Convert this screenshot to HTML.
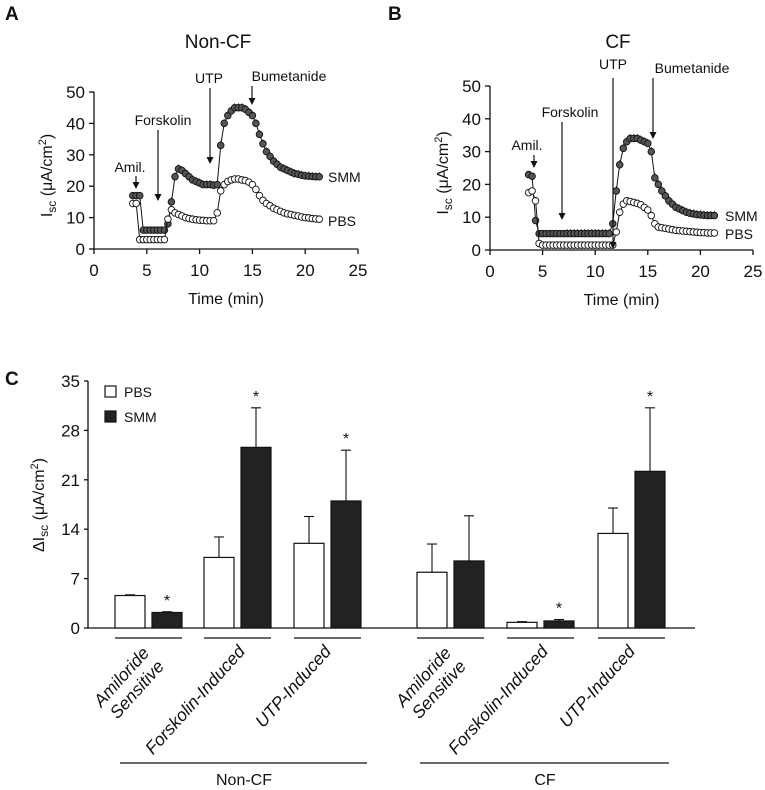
<!DOCTYPE html>
<html><head><meta charset="utf-8"><style>
body{margin:0;background:#fff}
svg{display:block;font-family:"Liberation Sans",sans-serif}
</style></head><body>
<svg id="fig" width="765" height="790" viewBox="0 0 765 790"></svg>
<script>
const times=[3.67,4,4.33,4.67,5,5.33,5.67,6,6.33,6.67,7,7.33,7.67,8,8.33,8.67,9,9.33,9.67,10,10.33,10.67,11,11.33,11.67,12,12.33,12.67,13,13.33,13.67,14,14.33,14.67,15,15.33,15.67,16,16.33,16.67,17,17.33,17.67,18,18.33,18.67,19,19.33,19.67,20,20.33,20.67,21,21.33];
const nonCfSmm=[17,17,17,6,6,6,6,6,6,6,8,15,23,25.5,25,24,23,22,21.5,21,20.5,20.5,20.5,20.3,20.5,33,40,42.5,44,45,45,45,44.5,43.5,42.5,40,36.5,33.5,31,29.5,28,27,26,25.5,25,24.5,24,23.8,23.5,23.3,23.2,23.1,23,23];
const nonCfPbs=[14.5,14.5,3,3,3,3,3,3,3,3,9.5,12.5,11.5,11,10.5,10,9.7,9.5,9.3,9.2,9.1,9,9,9,11.5,18.5,20.5,21.5,22,22.3,22.3,22,21.8,21.3,20.5,19,17,15.5,14.5,13.8,13,12.5,12,11.5,11.2,11,10.7,10.5,10.2,10,9.9,9.7,9.6,9.5];
const cfSmm=[23,22.5,9,5,5,5,5,5,5,5,5,5,5,5,5,5,5,5,5,5,5,5,5,5,8,18,26,31,33,34,34,34,33.5,33,32.5,30,22,20,18,16.5,15,14,13,12.5,12,11.5,11.2,11,10.8,10.7,10.6,10.5,10.5,10.5];
const cfPbs=[17.5,18,15,2,1.5,1.5,1.5,1.5,1.5,1.5,1.5,1.5,1.5,1.5,1.5,1.5,1.5,1.5,1.5,1.5,1.5,1.5,1.5,1.5,1.5,5.5,11.5,14,15,14.8,14.5,14.2,13.8,13,12.2,10.5,8,7,6.8,6.6,6.4,6.2,6,5.9,5.8,5.7,5.6,5.5,5.4,5.3,5.3,5.2,5.2,5.2];
const xTicks=[0,5,10,15,20,25];
const yTicks=[0,10,20,30,40,50];
const barCats=["amiloride-noncf","forskolin-noncf","utp-noncf","amiloride-cf","forskolin-cf","utp-cf"];
const pbsVals=[4.6,10,12,7.9,0.8,13.4];
const pbsErr=[0.1,2.9,3.8,4,0.1,3.6];
const smmVals=[2.2,25.6,18,9.5,1.0,22.2];
const smmErr=[0.1,5.6,7.2,6.4,0.2,9];
const sig=[true,true,true,false,true,true];
const cTicks=[0,7,14,21,28,35];

const NS="http://www.w3.org/2000/svg";
const svg=document.getElementById('fig');
function el(tag,attrs,name,parent){const e=document.createElementNS(NS,tag);for(const k in attrs)e.setAttribute(k,attrs[k]);


(parent||svg).appendChild(e);return e;}
function txt(x,y,s,size,name,anchor,extra){const t=el('text',Object.assign({x:x,y:y,'font-size':size,'text-anchor':anchor||'middle',fill:'#111'},extra||{}),name);t.innerHTML=s;return t;}
function line(x1,y1,x2,y2,name,w){return el('line',{x1,y1,x2,y2,stroke:'#111','stroke-width':w||1.3},name);}
function arrow(x,y1,y2,name){line(x,y1,x,y2-4,name,1.2);el('path',{d:`M${x-3.5},${y2-7}L${x+3.5},${y2-7}L${x},${y2}Z`,fill:'#111'},name+'-head');}

function panel(o){
  const X=v=>o.x0+(v/25)*(o.x1-o.x0), Y=v=>o.y0-(v/50)*(o.y0-o.y1);
  line(o.x0,o.y0,o.x1,o.y0,o.p+'-x-axis');
  line(o.x0,o.y0,o.x0,o.y1,o.p+'-y-axis');
  xTicks.forEach(t=>{line(X(t),o.y0,X(t),o.y0+5,o.p+'-x-tick');txt(X(t),o.y0+27,t,17,o.p+'-x-tick-label');});
  yTicks.forEach(t=>{line(o.x0-5,Y(t),o.x0,Y(t),o.p+'-y-tick');txt(o.x0-9,Y(t)+6,t,17,o.p+'-y-tick-label','end');});
  txt((o.x0+o.x1)/2,o.y0+55,'Time (min)',16,o.p+'-x-axis-title');
  const yc=(o.y0+o.y1)/2+5;
  txt(o.x0-42,yc,'I<tspan font-size="12" dy="4">sc</tspan><tspan dy="-4"> (μA/cm</tspan><tspan font-size="11" dy="-6">2</tspan><tspan dy="6">)</tspan>',16,o.p+'-y-axis-title','middle',{transform:`rotate(-90 ${o.x0-42} ${yc})`});
  [[o.smm,'#555','smm'],[o.pbs,'#fff','pbs']].forEach(([s,f,n])=>{
    const pts=s.map((v,i)=>X(times[i]).toFixed(1)+','+Y(v).toFixed(1)).join(' ');
    el('polyline',{points:pts,fill:'none',stroke:'#111','stroke-width':1},o.p+'-'+n+'-line');
    s.forEach((v,i)=>{
      if(n==='smm'&&times[i]>7){line(X(times[i]),Y(v),X(times[i]),Y(v+1.4),o.p+'-smm-error-bar',0.8);}
      el('circle',{cx:X(times[i]),cy:Y(v),r:3.3,fill:f,stroke:'#111','stroke-width':0.9},o.p+'-'+n+'-point');
    });
  });
}
panel({p:'a',x0:94,x1:358,y0:249,y1:92,smm:nonCfSmm,pbs:nonCfPbs});
panel({p:'b',x0:490,x1:753,y0:250,y1:86,smm:cfSmm,pbs:cfPbs});
txt(5,20,'A',19,'panel-a-letter','start',{'font-weight':'bold'});
txt(218,48,'Non-CF',19,'panel-a-title');
txt(130,172,'Amil.',14,'amil-label-a');arrow(136,176,189,'amil-arrow-a');
txt(163,125,'Forskolin',14,'forskolin-label-a');arrow(158,130,201,'forskolin-arrow-a');
txt(209,83,'UTP',14,'utp-label-a');arrow(210,88,164,'utp-arrow-a');
txt(289,81,'Bumetanide',14,'bumetanide-label-a');arrow(252,86,105,'bumetanide-arrow-a');
txt(328,182,'SMM',14,'smm-label-a','start');
txt(328,226,'PBS',14,'pbs-label-a','start');
txt(388,20,'B',19,'panel-b-letter','start',{'font-weight':'bold'});
txt(618,48,'CF',19,'panel-b-title');
txt(527,150,'Amil.',14,'amil-label-b');arrow(534,155,168,'amil-arrow-b');
txt(570,117,'Forskolin',14,'forskolin-label-b');arrow(562,122,220,'forskolin-arrow-b');
txt(613,69,'UTP',14,'utp-label-b');arrow(613,78,249,'utp-arrow-b');
txt(692,73,'Bumetanide',14,'bumetanide-label-b');arrow(653,78,139,'bumetanide-arrow-b');
txt(725,221,'SMM',14,'smm-label-b','start');
txt(725,239,'PBS',14,'pbs-label-b','start');

// panel C
txt(5,385,'C',19,'panel-c-letter','start',{'font-weight':'bold'});
const cy0=628,cy1=381,cx0=88,cx1=695;
const CY=v=>cy0-(v/35)*(cy0-cy1);
line(cx0,cy0,cx1,cy0,'c-x-axis');line(cx0,cy0,cx0,cy1,'c-y-axis');
cTicks.forEach(t=>{line(cx0-4,CY(t),cx0,CY(t),'c-y-tick');txt(cx0-8,CY(t)+6,t,17,'c-y-tick-label','end');});
txt(44,505,'ΔI<tspan font-size="12" dy="4">sc</tspan><tspan dy="-4"> (μA/cm</tspan><tspan font-size="11" dy="-6">2</tspan><tspan dy="6">)</tspan>',16,'c-y-axis-title','middle',{transform:'rotate(-90 44 505)'});
const groupStart=[115,204,294,417,507,598];const bw=30;
barCats.forEach((c,i)=>{
  const xp=groupStart[i],xs=xp+37;
  [[xp,pbsVals[i],pbsErr[i],'#fff','pbs'],[xs,smmVals[i],smmErr[i],'#222','smm']].forEach(([x,v,e,f,n])=>{
    line(x+bw/2,CY(v),x+bw/2,CY(v+e),'bar-'+n+'-'+c+'-error',1.1);
    line(x+bw/2-5,CY(v+e),x+bw/2+5,CY(v+e),'bar-'+n+'-'+c+'-error-cap',1.1);
    el('rect',{x:x,y:CY(v),width:bw,height:cy0-CY(v),fill:f,stroke:'#111','stroke-width':1.2},'bar-'+n+'-'+c);
  });
  if(sig[i])txt(xs+bw/2,CY(smmVals[i]+smmErr[i])-6,'*',16,'significance-star-'+c);
  line(xp,638,xs+bw,638,'group-underline-'+c,1.2);
});
const labels=[['Amiloride','Sensitive'],['Forskolin-Induced'],['UTP-Induced'],['Amiloride','Sensitive'],['Forskolin-Induced'],['UTP-Induced']];
const labOff=[50,42,38,50,42,38];
labels.forEach((l,i)=>{
  const ax=groupStart[i]+labOff[i],ay=l.length===2?667:652;
  const t=el('text',{x:ax,y:ay,'font-size':17.5,'text-anchor':'end','font-style':'italic',fill:'#111',transform:`rotate(-48 ${ax} ${ay})`},'category-label-'+barCats[i]);
  if(l.length===2){t.innerHTML=`<tspan x="${ax}" dy="-20">${l[0]}</tspan><tspan x="${ax}" dy="20">${l[1]}</tspan>`;}
  else t.textContent=l[0];
});
line(120,763,367,763,'non-cf-group-line',1.2);line(420,763,669,763,'cf-group-line',1.2);
txt(244,785,'Non-CF',16,'non-cf-group-label');txt(545,785,'CF',16,'cf-group-label');
el('rect',{x:105,y:386,width:11,height:11,fill:'#fff',stroke:'#111','stroke-width':1.2},'legend-pbs-swatch');
txt(124,397,'PBS',14,'legend-pbs-label','start');
el('rect',{x:105,y:411,width:11,height:11,fill:'#222',stroke:'#111','stroke-width':1.2},'legend-smm-swatch');
txt(124,422,'SMM',14,'legend-smm-label','start');
</script>
</body></html>
